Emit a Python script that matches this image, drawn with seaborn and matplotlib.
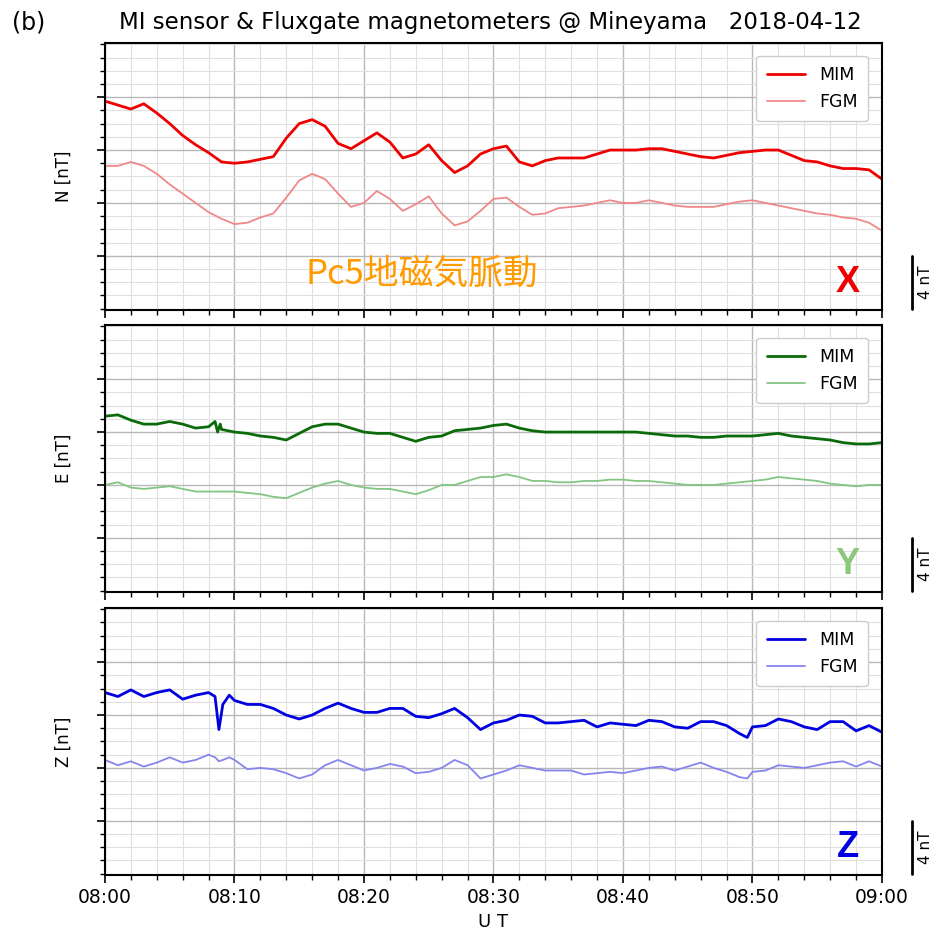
import matplotlib
matplotlib.use('Agg')
import matplotlib.pyplot as plt
import matplotlib.transforms as mtransforms
from matplotlib.ticker import MultipleLocator, FixedLocator
import seaborn as sns

# time axis in minutes after 08:00 UT, values in nT (offset per trace)
t_x = list(range(61))
mim_x = [5.7, 5.4, 5.1, 5.5, 4.8, 4.0, 3.1, 2.4, 1.8, 1.1,
         1.0, 1.1, 1.3, 1.5, 2.9, 4.0, 4.3, 3.8, 2.5, 2.1,
         2.7, 3.3, 2.6, 1.4, 1.7, 2.4, 1.2, 0.3, 0.8, 1.7,
         2.1, 2.3, 1.1, 0.8, 1.2, 1.4, 1.4, 1.4, 1.7, 2.0,
         2.0, 2.0, 2.1, 2.1, 1.9, 1.7, 1.5, 1.4, 1.6, 1.8,
         1.9, 2.0, 2.0, 1.6, 1.2, 1.1, 0.8, 0.6, 0.6, 0.5,
         -0.2]
fgm_x = [0.8, 0.8, 1.1, 0.8, 0.2, -0.6, -1.3, -2.0, -2.7, -3.2,
         -3.6, -3.5, -3.1, -2.8, -1.6, -0.3, 0.2, -0.2, -1.3, -2.3,
         -2.0, -1.1, -1.7, -2.6, -2.1, -1.5, -2.8, -3.7, -3.4, -2.6,
         -1.7, -1.6, -2.3, -2.9, -2.8, -2.4, -2.3, -2.2, -2.0, -1.8,
         -2.0, -2.0, -1.8, -2.0, -2.2, -2.3, -2.3, -2.3, -2.1, -1.9,
         -1.8, -2.0, -2.2, -2.4, -2.6, -2.8, -2.9, -3.1, -3.2, -3.5,
         -4.1]

t_y = [0, 1, 2, 3, 4, 5, 6, 7, 8, 8.5, 8.7, 8.9] + list(range(9, 61))
mim_y = [3.2, 3.3, 2.9, 2.6, 2.6, 2.8, 2.6, 2.3, 2.4, 2.8, 2.0, 2.6,
         2.2, 2.0, 1.9, 1.7, 1.6, 1.4, 1.9, 2.4, 2.6, 2.6,
         2.3, 2.0, 1.9, 1.9, 1.6, 1.3, 1.6, 1.7, 2.1, 2.2,
         2.3, 2.5, 2.6, 2.3, 2.1, 2.0, 2.0, 2.0, 2.0, 2.0,
         2.0, 2.0, 2.0, 1.9, 1.8, 1.7, 1.7, 1.6, 1.6, 1.7,
         1.7, 1.7, 1.8, 1.9, 1.7, 1.6, 1.5, 1.4, 1.2, 1.1,
         1.1, 1.2]
fgm_y = [-2.0, -1.8, -2.2, -2.3, -2.2, -2.1, -2.3, -2.5, -2.5, -2.5, -2.5, -2.5,
         -2.5, -2.5, -2.6, -2.7, -2.9, -3.0, -2.6, -2.2, -1.9, -1.7,
         -2.0, -2.2, -2.3, -2.3, -2.5, -2.7, -2.4, -2.0, -2.0, -1.7,
         -1.4, -1.4, -1.2, -1.4, -1.7, -1.7, -1.8, -1.8, -1.7, -1.7,
         -1.6, -1.6, -1.7, -1.7, -1.8, -1.9, -2.0, -2.0, -2.0, -1.9,
         -1.8, -1.7, -1.6, -1.4, -1.5, -1.6, -1.7, -1.9, -2.0, -2.1,
         -2.0, -2.0]

t_z = list(range(0, 9)) + [8.5, 8.8, 9.1, 9.6] + list(range(10, 50)) + [49.6] + list(range(50, 61))
mim_z = [3.7, 3.4, 3.9, 3.4, 3.7, 3.9, 3.2, 3.5, 3.7,
         3.4, 0.9, 2.8, 3.5,
         3.1, 2.8, 2.8, 2.5, 2.0, 1.7, 2.0, 2.5, 2.9, 2.5,
         2.2, 2.2, 2.5, 2.5, 1.9, 1.8, 2.1, 2.5, 1.8, 0.9,
         1.4, 1.6, 2.0, 1.9, 1.4, 1.4, 1.5, 1.6, 1.1, 1.4,
         1.3, 1.2, 1.6, 1.5, 1.1, 1.0, 1.5, 1.5, 1.2, 0.6,
         0.3,
         1.1, 1.2, 1.7, 1.5, 1.1, 0.9, 1.5, 1.5, 0.8, 1.2, 0.7]
fgm_z = [-1.4, -1.8, -1.5, -1.9, -1.6, -1.2, -1.6, -1.4, -1.0,
         -1.2, -1.5, -1.4, -1.2,
         -1.4, -2.1, -2.0, -2.1, -2.4, -2.8, -2.5, -1.8, -1.4, -1.8,
         -2.2, -2.0, -1.7, -1.9, -2.4, -2.3, -2.0, -1.4, -1.8, -2.8,
         -2.5, -2.2, -1.8, -2.0, -2.2, -2.2, -2.2, -2.5, -2.4, -2.3,
         -2.4, -2.2, -2.0, -1.9, -2.2, -1.9, -1.6, -2.0, -2.3, -2.7,
         -2.8,
         -2.3, -2.2, -1.8, -1.9, -2.0, -1.8, -1.6, -1.5, -1.9, -1.5, -1.9]

xtick_labels = ['08:00', '08:10', '08:20', '08:30', '08:40', '08:50', '09:00']
ylabels = ['N [nT]', 'E [nT]', 'Z [nT]']
components = ['X', 'Y', 'Z']

sns.set_style('ticks')
plt.rcParams['font.family'] = ['DejaVu Sans', 'Noto Sans CJK JP']
plt.rcParams['text.color'] = 'black'
plt.rcParams['axes.labelcolor'] = 'black'
plt.rcParams['xtick.color'] = 'black'
plt.rcParams['ytick.color'] = 'black'

panels = [
    (t_x, mim_x, fgm_x, '#ee0000', '#f08888', '#ee0000'),
    (t_y, mim_y, fgm_y, '#0b6b0b', '#84c584', '#8cc87c'),
    (t_z, mim_z, fgm_z, '#0000e0', '#8585ee', '#0000e0'),
]
bottoms = [0.6674, 0.3648, 0.0612]

fig = plt.figure(figsize=(9.33, 9.32), dpi=100)

for i, (t, mim, fgm, c1, c2, cl) in enumerate(panels):
    ax = fig.add_axes([0.1125, bottoms[i], 0.8328, 0.2865])
    sns.lineplot(x=t, y=mim, ax=ax, color=c1, lw=2.0, label='MIM')
    sns.lineplot(x=t, y=fgm, ax=ax, color=c2, lw=1.3, label='FGM')
    ax.set_xlim(0, 60)
    ax.set_ylim(-10.1, 10.1)
    ax.xaxis.set_major_locator(MultipleLocator(10))
    ax.xaxis.set_minor_locator(MultipleLocator(2))
    ax.yaxis.set_major_locator(FixedLocator([-6, -2, 2, 6]))
    ax.yaxis.set_minor_locator(MultipleLocator(1))
    ax.grid(which='major', color='#b8b8b8', lw=1.0)
    ax.grid(which='minor', color='#e0e0e0', lw=0.8)
    ax.set_axisbelow(True)
    ax.tick_params(which='major', length=6, width=1.2, direction='out', labelsize=13.5)
    ax.tick_params(which='minor', length=3.5, width=1.0, direction='out')
    ax.tick_params(axis='y', labelleft=False)
    for s in ax.spines.values():
        s.set_linewidth(1.5)
        s.set_color('black')
    if i == 2:
        ax.set_xticks([0, 10, 20, 30, 40, 50, 60])
        ax.set_xticklabels(xtick_labels)
        ax.set_xlabel('U T', fontsize=13)
    else:
        ax.tick_params(axis='x', labelbottom=False)
    ax.set_ylabel(ylabels[i], fontsize=12, labelpad=16)
    leg = ax.legend(loc='upper right', fontsize=12.5, handlelength=2.2,
                    borderpad=0.6, framealpha=1, edgecolor='#cccccc',
                    bbox_to_anchor=(0.993, 0.985))

    # 4 nT scale bar outside the right edge
    trans = mtransforms.blended_transform_factory(ax.transAxes, ax.transData)
    ax.plot([1.039, 1.039], [-10.0, -6.0], transform=trans, color='black',
            lw=2, clip_on=False)
    ax.text(1.056, -8.0, '4 nT', transform=trans, rotation=90,
            ha='center', va='center', fontsize=11)
    ax.text(0.956, -8.0, components[i], transform=trans, color=cl,
            fontsize=26, fontweight='bold', family='Liberation Sans',
            ha='center', va='center')

    if i == 0:
        ax.text(0.408, -7.4, 'Pc5地磁気脈動', transform=trans, color='#ff9b00',
                fontsize=25, family=['Noto Sans CJK JP', 'DejaVu Sans'],
                ha='center', va='center')

fig.text(0.525, 0.976, 'MI sensor & Fluxgate magnetometers @ Mineyama   2018-04-12',
         ha='center', va='center', fontsize=16.5)
fig.text(0.013, 0.976, '(b)', ha='left', va='center', fontsize=17)

fig.savefig('out.png', dpi=100)
